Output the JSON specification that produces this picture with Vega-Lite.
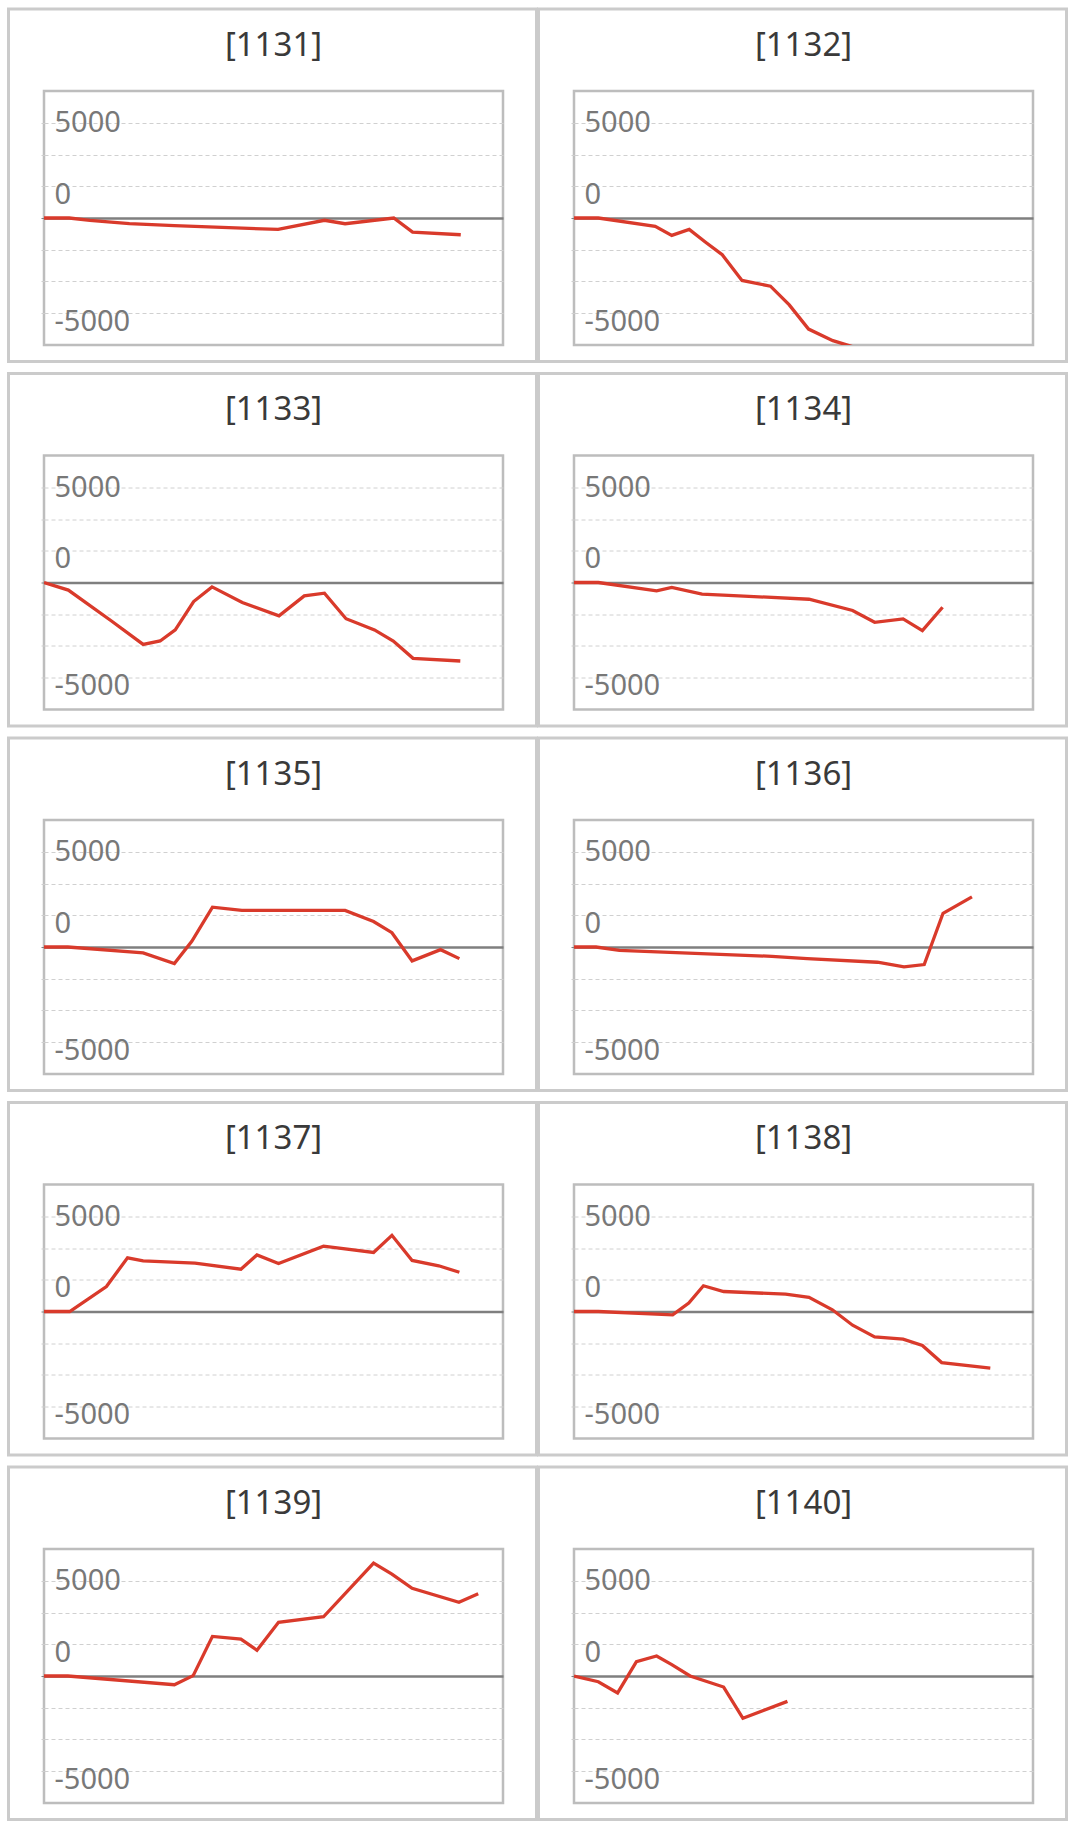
{
  "$schema": "https://vega.github.io/schema/vega-lite/v6.json",
  "padding": {"left": 5, "top": 6, "right": 0, "bottom": 0},
  "background": "white",
  "bounds": "flush",
  "columns": 2,
  "spacing": {"row": 110.5, "column": 71},
  "datasets": {
    "games": [
      {"id": "1131", "g": 0, "v": 0}, {"id": "1131", "g": 5.5, "v": 0}, {"id": "1131", "g": 10, "v": -120}, {"id": "1131", "g": 18.6, "v": -300},
      {"id": "1131", "g": 28.4, "v": -400}, {"id": "1131", "g": 51, "v": -600}, {"id": "1131", "g": 61.1, "v": -120}, {"id": "1131", "g": 65.6, "v": -300},
      {"id": "1131", "g": 76.2, "v": 0}, {"id": "1131", "g": 80.3, "v": -740}, {"id": "1131", "g": 90.8, "v": -880},
      {"id": "1132", "g": 0, "v": 0}, {"id": "1132", "g": 5.3, "v": 0}, {"id": "1132", "g": 17.7, "v": -440}, {"id": "1132", "g": 21.3, "v": -910},
      {"id": "1132", "g": 25.1, "v": -600}, {"id": "1132", "g": 28.6, "v": -1260}, {"id": "1132", "g": 32.3, "v": -1930}, {"id": "1132", "g": 36.6, "v": -3280},
      {"id": "1132", "g": 42.8, "v": -3580}, {"id": "1132", "g": 46.9, "v": -4560}, {"id": "1132", "g": 51.1, "v": -5830}, {"id": "1132", "g": 56.4, "v": -6440},
      {"id": "1132", "g": 62, "v": -6850},
      {"id": "1133", "g": 0, "v": 0}, {"id": "1133", "g": 5.3, "v": -400}, {"id": "1133", "g": 14.7, "v": -2020}, {"id": "1133", "g": 21.6, "v": -3250},
      {"id": "1133", "g": 25.3, "v": -3070}, {"id": "1133", "g": 28.6, "v": -2490}, {"id": "1133", "g": 32.6, "v": -1000}, {"id": "1133", "g": 36.6, "v": -230},
      {"id": "1133", "g": 43.2, "v": -1050}, {"id": "1133", "g": 51.2, "v": -1750}, {"id": "1133", "g": 56.7, "v": -700}, {"id": "1133", "g": 61.1, "v": -560},
      {"id": "1133", "g": 65.8, "v": -1900}, {"id": "1133", "g": 72, "v": -2490}, {"id": "1133", "g": 76.1, "v": -3070}, {"id": "1133", "g": 80.4, "v": -3980},
      {"id": "1133", "g": 90.7, "v": -4120},
      {"id": "1134", "g": 0, "v": 0}, {"id": "1134", "g": 5.3, "v": 0}, {"id": "1134", "g": 18, "v": -440}, {"id": "1134", "g": 21.3, "v": -260},
      {"id": "1134", "g": 27.9, "v": -610}, {"id": "1134", "g": 35.9, "v": -700}, {"id": "1134", "g": 51.2, "v": -880}, {"id": "1134", "g": 60.7, "v": -1470},
      {"id": "1134", "g": 65.5, "v": -2090}, {"id": "1134", "g": 71.7, "v": -1910}, {"id": "1134", "g": 75.9, "v": -2530}, {"id": "1134", "g": 80.3, "v": -1300},
      {"id": "1135", "g": 0, "v": 0}, {"id": "1135", "g": 5.2, "v": 0}, {"id": "1135", "g": 21.6, "v": -310}, {"id": "1135", "g": 28.4, "v": -870},
      {"id": "1135", "g": 32.2, "v": 300}, {"id": "1135", "g": 36.7, "v": 2090}, {"id": "1135", "g": 43.1, "v": 1920}, {"id": "1135", "g": 65.6, "v": 1920},
      {"id": "1135", "g": 71.8, "v": 1340}, {"id": "1135", "g": 75.8, "v": 750}, {"id": "1135", "g": 80.2, "v": -730}, {"id": "1135", "g": 86.4, "v": -140},
      {"id": "1135", "g": 90.5, "v": -610},
      {"id": "1136", "g": 0, "v": 0}, {"id": "1136", "g": 4.8, "v": 0}, {"id": "1136", "g": 9.9, "v": -180}, {"id": "1136", "g": 43.1, "v": -490},
      {"id": "1136", "g": 50.8, "v": -610}, {"id": "1136", "g": 66.1, "v": -800}, {"id": "1136", "g": 71.9, "v": -1040}, {"id": "1136", "g": 76.3, "v": -920},
      {"id": "1136", "g": 80.4, "v": 1770}, {"id": "1136", "g": 86.7, "v": 2630},
      {"id": "1137", "g": 0, "v": 0}, {"id": "1137", "g": 5.6, "v": 0}, {"id": "1137", "g": 13.6, "v": 1310}, {"id": "1137", "g": 18.2, "v": 2820},
      {"id": "1137", "g": 21.6, "v": 2660}, {"id": "1137", "g": 32.9, "v": 2540}, {"id": "1137", "g": 42.9, "v": 2220}, {"id": "1137", "g": 46.4, "v": 2970},
      {"id": "1137", "g": 51.1, "v": 2520}, {"id": "1137", "g": 60.9, "v": 3430}, {"id": "1137", "g": 71.8, "v": 3100}, {"id": "1137", "g": 75.8, "v": 4000},
      {"id": "1137", "g": 80.2, "v": 2680}, {"id": "1137", "g": 86, "v": 2400}, {"id": "1137", "g": 90.5, "v": 2060},
      {"id": "1138", "g": 0, "v": 0}, {"id": "1138", "g": 5.3, "v": 0}, {"id": "1138", "g": 21.5, "v": -180}, {"id": "1138", "g": 25, "v": 440},
      {"id": "1138", "g": 28.2, "v": 1350}, {"id": "1138", "g": 32.6, "v": 1050}, {"id": "1138", "g": 46.1, "v": 910}, {"id": "1138", "g": 51.2, "v": 740},
      {"id": "1138", "g": 56.3, "v": 90}, {"id": "1138", "g": 60.7, "v": -720}, {"id": "1138", "g": 65.5, "v": -1330}, {"id": "1138", "g": 71.7, "v": -1450},
      {"id": "1138", "g": 75.9, "v": -1780}, {"id": "1138", "g": 80.1, "v": -2680}, {"id": "1138", "g": 90.7, "v": -2970},
      {"id": "1139", "g": 0, "v": 0}, {"id": "1139", "g": 5.2, "v": 0}, {"id": "1139", "g": 28.4, "v": -460}, {"id": "1139", "g": 32.5, "v": 20},
      {"id": "1139", "g": 36.7, "v": 2080}, {"id": "1139", "g": 42.9, "v": 1940}, {"id": "1139", "g": 46.4, "v": 1350}, {"id": "1139", "g": 51.1, "v": 2820},
      {"id": "1139", "g": 60.9, "v": 3110}, {"id": "1139", "g": 71.8, "v": 5930}, {"id": "1139", "g": 75.8, "v": 5350}, {"id": "1139", "g": 80.2, "v": 4600},
      {"id": "1139", "g": 90.4, "v": 3870}, {"id": "1139", "g": 94.6, "v": 4320},
      {"id": "1140", "g": 0, "v": 0}, {"id": "1140", "g": 5.3, "v": -300}, {"id": "1140", "g": 9.5, "v": -890}, {"id": "1140", "g": 13.6, "v": 750},
      {"id": "1140", "g": 18, "v": 1050}, {"id": "1140", "g": 21.3, "v": 600}, {"id": "1140", "g": 25.3, "v": 0}, {"id": "1140", "g": 32.6, "v": -580},
      {"id": "1140", "g": 36.8, "v": -2220}, {"id": "1140", "g": 46.5, "v": -1330}
    ]
  },
  "concat": [
    {"title": "[1131]", "width": 459, "height": 254, "layer": [
      {"data": {"values": [{}]}, "mark": {"type": "rect", "fill": "transparent", "stroke": "#cbcbcb", "strokeWidth": 3, "clip": false},
       "encoding": {"x": {"datum": -7.734, "scale": {"domain": [0, 100], "nice": false}, "axis": null}, "x2": {"datum": 107.3},
                    "y": {"datum": 10971, "scale": {"domain": [-6666.6667, 6666.6667], "nice": false}}, "y2": {"datum": -7533}}},
      {"data": {"name": "games"}, "transform": [{"filter": "datum.id == '1131'"}],
       "mark": {"type": "line", "color": "#d93a2b", "strokeWidth": 3.3, "clip": true},
       "encoding": {"x": {"field": "g", "type": "quantitative", "scale": {"domain": [0, 100], "nice": false}, "axis": null},
                    "y": {"field": "v", "type": "quantitative", "scale": {"domain": [-6666.6667, 6666.6667], "nice": false},
                          "axis": {"values": [-5000, -3333.3333, -1666.6667, 0, 1666.6667, 3333.3333, 5000], "title": null, "domain": false, "tickSize": 3,
                                   "tickColor": {"condition": {"test": "datum.value == 0", "value": "#7f7f7f"}, "value": "#cfcfcf"},
                                   "gridColor": {"condition": {"test": "datum.value == 0", "value": "#7f7f7f"}, "value": "#d0d0d0"},
                                   "gridDash": {"condition": {"test": "datum.value == 0", "value": []}, "value": [4, 3]},
                                   "gridWidth": {"condition": {"test": "datum.value == 0", "value": 2.5}, "value": 1},
                                   "labelOffset": {"condition": {"test": "datum.value == 5000", "value": 0}, "value": 8},
                                   "labelExpr": "datum.value == 5000 ? '5000' : datum.value == -5000 ? '-5000' : datum.value == 1666.6667 ? '0' : ''"}}}}
    ]},
    {"title": "[1132]", "width": 459, "height": 254, "layer": [
      {"data": {"values": [{}]}, "mark": {"type": "rect", "fill": "transparent", "stroke": "#cbcbcb", "strokeWidth": 3, "clip": false},
       "encoding": {"x": {"datum": -7.734, "scale": {"domain": [0, 100], "nice": false}, "axis": null}, "x2": {"datum": 107.3},
                    "y": {"datum": 10971, "scale": {"domain": [-6666.6667, 6666.6667], "nice": false}}, "y2": {"datum": -7533}}},
      {"data": {"name": "games"}, "transform": [{"filter": "datum.id == '1132'"}],
       "mark": {"type": "line", "color": "#d93a2b", "strokeWidth": 3.3, "clip": true},
       "encoding": {"x": {"field": "g", "type": "quantitative", "scale": {"domain": [0, 100], "nice": false}, "axis": null},
                    "y": {"field": "v", "type": "quantitative", "scale": {"domain": [-6666.6667, 6666.6667], "nice": false},
                          "axis": {"values": [-5000, -3333.3333, -1666.6667, 0, 1666.6667, 3333.3333, 5000], "title": null, "domain": false, "tickSize": 3,
                                   "tickColor": {"condition": {"test": "datum.value == 0", "value": "#7f7f7f"}, "value": "#cfcfcf"},
                                   "gridColor": {"condition": {"test": "datum.value == 0", "value": "#7f7f7f"}, "value": "#d0d0d0"},
                                   "gridDash": {"condition": {"test": "datum.value == 0", "value": []}, "value": [4, 3]},
                                   "gridWidth": {"condition": {"test": "datum.value == 0", "value": 2.5}, "value": 1},
                                   "labelOffset": {"condition": {"test": "datum.value == 5000", "value": 0}, "value": 8},
                                   "labelExpr": "datum.value == 5000 ? '5000' : datum.value == -5000 ? '-5000' : datum.value == 1666.6667 ? '0' : ''"}}}}
    ]},
    {"title": "[1133]", "width": 459, "height": 254, "layer": [
      {"data": {"values": [{}]}, "mark": {"type": "rect", "fill": "transparent", "stroke": "#cbcbcb", "strokeWidth": 3, "clip": false},
       "encoding": {"x": {"datum": -7.734, "scale": {"domain": [0, 100], "nice": false}, "axis": null}, "x2": {"datum": 107.3},
                    "y": {"datum": 10971, "scale": {"domain": [-6666.6667, 6666.6667], "nice": false}}, "y2": {"datum": -7533}}},
      {"data": {"name": "games"}, "transform": [{"filter": "datum.id == '1133'"}],
       "mark": {"type": "line", "color": "#d93a2b", "strokeWidth": 3.3, "clip": true},
       "encoding": {"x": {"field": "g", "type": "quantitative", "scale": {"domain": [0, 100], "nice": false}, "axis": null},
                    "y": {"field": "v", "type": "quantitative", "scale": {"domain": [-6666.6667, 6666.6667], "nice": false},
                          "axis": {"values": [-5000, -3333.3333, -1666.6667, 0, 1666.6667, 3333.3333, 5000], "title": null, "domain": false, "tickSize": 3,
                                   "tickColor": {"condition": {"test": "datum.value == 0", "value": "#7f7f7f"}, "value": "#cfcfcf"},
                                   "gridColor": {"condition": {"test": "datum.value == 0", "value": "#7f7f7f"}, "value": "#d0d0d0"},
                                   "gridDash": {"condition": {"test": "datum.value == 0", "value": []}, "value": [4, 3]},
                                   "gridWidth": {"condition": {"test": "datum.value == 0", "value": 2.5}, "value": 1},
                                   "labelOffset": {"condition": {"test": "datum.value == 5000", "value": 0}, "value": 8},
                                   "labelExpr": "datum.value == 5000 ? '5000' : datum.value == -5000 ? '-5000' : datum.value == 1666.6667 ? '0' : ''"}}}}
    ]},
    {"title": "[1134]", "width": 459, "height": 254, "layer": [
      {"data": {"values": [{}]}, "mark": {"type": "rect", "fill": "transparent", "stroke": "#cbcbcb", "strokeWidth": 3, "clip": false},
       "encoding": {"x": {"datum": -7.734, "scale": {"domain": [0, 100], "nice": false}, "axis": null}, "x2": {"datum": 107.3},
                    "y": {"datum": 10971, "scale": {"domain": [-6666.6667, 6666.6667], "nice": false}}, "y2": {"datum": -7533}}},
      {"data": {"name": "games"}, "transform": [{"filter": "datum.id == '1134'"}],
       "mark": {"type": "line", "color": "#d93a2b", "strokeWidth": 3.3, "clip": true},
       "encoding": {"x": {"field": "g", "type": "quantitative", "scale": {"domain": [0, 100], "nice": false}, "axis": null},
                    "y": {"field": "v", "type": "quantitative", "scale": {"domain": [-6666.6667, 6666.6667], "nice": false},
                          "axis": {"values": [-5000, -3333.3333, -1666.6667, 0, 1666.6667, 3333.3333, 5000], "title": null, "domain": false, "tickSize": 3,
                                   "tickColor": {"condition": {"test": "datum.value == 0", "value": "#7f7f7f"}, "value": "#cfcfcf"},
                                   "gridColor": {"condition": {"test": "datum.value == 0", "value": "#7f7f7f"}, "value": "#d0d0d0"},
                                   "gridDash": {"condition": {"test": "datum.value == 0", "value": []}, "value": [4, 3]},
                                   "gridWidth": {"condition": {"test": "datum.value == 0", "value": 2.5}, "value": 1},
                                   "labelOffset": {"condition": {"test": "datum.value == 5000", "value": 0}, "value": 8},
                                   "labelExpr": "datum.value == 5000 ? '5000' : datum.value == -5000 ? '-5000' : datum.value == 1666.6667 ? '0' : ''"}}}}
    ]},
    {"title": "[1135]", "width": 459, "height": 254, "layer": [
      {"data": {"values": [{}]}, "mark": {"type": "rect", "fill": "transparent", "stroke": "#cbcbcb", "strokeWidth": 3, "clip": false},
       "encoding": {"x": {"datum": -7.734, "scale": {"domain": [0, 100], "nice": false}, "axis": null}, "x2": {"datum": 107.3},
                    "y": {"datum": 10971, "scale": {"domain": [-6666.6667, 6666.6667], "nice": false}}, "y2": {"datum": -7533}}},
      {"data": {"name": "games"}, "transform": [{"filter": "datum.id == '1135'"}],
       "mark": {"type": "line", "color": "#d93a2b", "strokeWidth": 3.3, "clip": true},
       "encoding": {"x": {"field": "g", "type": "quantitative", "scale": {"domain": [0, 100], "nice": false}, "axis": null},
                    "y": {"field": "v", "type": "quantitative", "scale": {"domain": [-6666.6667, 6666.6667], "nice": false},
                          "axis": {"values": [-5000, -3333.3333, -1666.6667, 0, 1666.6667, 3333.3333, 5000], "title": null, "domain": false, "tickSize": 3,
                                   "tickColor": {"condition": {"test": "datum.value == 0", "value": "#7f7f7f"}, "value": "#cfcfcf"},
                                   "gridColor": {"condition": {"test": "datum.value == 0", "value": "#7f7f7f"}, "value": "#d0d0d0"},
                                   "gridDash": {"condition": {"test": "datum.value == 0", "value": []}, "value": [4, 3]},
                                   "gridWidth": {"condition": {"test": "datum.value == 0", "value": 2.5}, "value": 1},
                                   "labelOffset": {"condition": {"test": "datum.value == 5000", "value": 0}, "value": 8},
                                   "labelExpr": "datum.value == 5000 ? '5000' : datum.value == -5000 ? '-5000' : datum.value == 1666.6667 ? '0' : ''"}}}}
    ]},
    {"title": "[1136]", "width": 459, "height": 254, "layer": [
      {"data": {"values": [{}]}, "mark": {"type": "rect", "fill": "transparent", "stroke": "#cbcbcb", "strokeWidth": 3, "clip": false},
       "encoding": {"x": {"datum": -7.734, "scale": {"domain": [0, 100], "nice": false}, "axis": null}, "x2": {"datum": 107.3},
                    "y": {"datum": 10971, "scale": {"domain": [-6666.6667, 6666.6667], "nice": false}}, "y2": {"datum": -7533}}},
      {"data": {"name": "games"}, "transform": [{"filter": "datum.id == '1136'"}],
       "mark": {"type": "line", "color": "#d93a2b", "strokeWidth": 3.3, "clip": true},
       "encoding": {"x": {"field": "g", "type": "quantitative", "scale": {"domain": [0, 100], "nice": false}, "axis": null},
                    "y": {"field": "v", "type": "quantitative", "scale": {"domain": [-6666.6667, 6666.6667], "nice": false},
                          "axis": {"values": [-5000, -3333.3333, -1666.6667, 0, 1666.6667, 3333.3333, 5000], "title": null, "domain": false, "tickSize": 3,
                                   "tickColor": {"condition": {"test": "datum.value == 0", "value": "#7f7f7f"}, "value": "#cfcfcf"},
                                   "gridColor": {"condition": {"test": "datum.value == 0", "value": "#7f7f7f"}, "value": "#d0d0d0"},
                                   "gridDash": {"condition": {"test": "datum.value == 0", "value": []}, "value": [4, 3]},
                                   "gridWidth": {"condition": {"test": "datum.value == 0", "value": 2.5}, "value": 1},
                                   "labelOffset": {"condition": {"test": "datum.value == 5000", "value": 0}, "value": 8},
                                   "labelExpr": "datum.value == 5000 ? '5000' : datum.value == -5000 ? '-5000' : datum.value == 1666.6667 ? '0' : ''"}}}}
    ]},
    {"title": "[1137]", "width": 459, "height": 254, "layer": [
      {"data": {"values": [{}]}, "mark": {"type": "rect", "fill": "transparent", "stroke": "#cbcbcb", "strokeWidth": 3, "clip": false},
       "encoding": {"x": {"datum": -7.734, "scale": {"domain": [0, 100], "nice": false}, "axis": null}, "x2": {"datum": 107.3},
                    "y": {"datum": 10971, "scale": {"domain": [-6666.6667, 6666.6667], "nice": false}}, "y2": {"datum": -7533}}},
      {"data": {"name": "games"}, "transform": [{"filter": "datum.id == '1137'"}],
       "mark": {"type": "line", "color": "#d93a2b", "strokeWidth": 3.3, "clip": true},
       "encoding": {"x": {"field": "g", "type": "quantitative", "scale": {"domain": [0, 100], "nice": false}, "axis": null},
                    "y": {"field": "v", "type": "quantitative", "scale": {"domain": [-6666.6667, 6666.6667], "nice": false},
                          "axis": {"values": [-5000, -3333.3333, -1666.6667, 0, 1666.6667, 3333.3333, 5000], "title": null, "domain": false, "tickSize": 3,
                                   "tickColor": {"condition": {"test": "datum.value == 0", "value": "#7f7f7f"}, "value": "#cfcfcf"},
                                   "gridColor": {"condition": {"test": "datum.value == 0", "value": "#7f7f7f"}, "value": "#d0d0d0"},
                                   "gridDash": {"condition": {"test": "datum.value == 0", "value": []}, "value": [4, 3]},
                                   "gridWidth": {"condition": {"test": "datum.value == 0", "value": 2.5}, "value": 1},
                                   "labelOffset": {"condition": {"test": "datum.value == 5000", "value": 0}, "value": 8},
                                   "labelExpr": "datum.value == 5000 ? '5000' : datum.value == -5000 ? '-5000' : datum.value == 1666.6667 ? '0' : ''"}}}}
    ]},
    {"title": "[1138]", "width": 459, "height": 254, "layer": [
      {"data": {"values": [{}]}, "mark": {"type": "rect", "fill": "transparent", "stroke": "#cbcbcb", "strokeWidth": 3, "clip": false},
       "encoding": {"x": {"datum": -7.734, "scale": {"domain": [0, 100], "nice": false}, "axis": null}, "x2": {"datum": 107.3},
                    "y": {"datum": 10971, "scale": {"domain": [-6666.6667, 6666.6667], "nice": false}}, "y2": {"datum": -7533}}},
      {"data": {"name": "games"}, "transform": [{"filter": "datum.id == '1138'"}],
       "mark": {"type": "line", "color": "#d93a2b", "strokeWidth": 3.3, "clip": true},
       "encoding": {"x": {"field": "g", "type": "quantitative", "scale": {"domain": [0, 100], "nice": false}, "axis": null},
                    "y": {"field": "v", "type": "quantitative", "scale": {"domain": [-6666.6667, 6666.6667], "nice": false},
                          "axis": {"values": [-5000, -3333.3333, -1666.6667, 0, 1666.6667, 3333.3333, 5000], "title": null, "domain": false, "tickSize": 3,
                                   "tickColor": {"condition": {"test": "datum.value == 0", "value": "#7f7f7f"}, "value": "#cfcfcf"},
                                   "gridColor": {"condition": {"test": "datum.value == 0", "value": "#7f7f7f"}, "value": "#d0d0d0"},
                                   "gridDash": {"condition": {"test": "datum.value == 0", "value": []}, "value": [4, 3]},
                                   "gridWidth": {"condition": {"test": "datum.value == 0", "value": 2.5}, "value": 1},
                                   "labelOffset": {"condition": {"test": "datum.value == 5000", "value": 0}, "value": 8},
                                   "labelExpr": "datum.value == 5000 ? '5000' : datum.value == -5000 ? '-5000' : datum.value == 1666.6667 ? '0' : ''"}}}}
    ]},
    {"title": "[1139]", "width": 459, "height": 254, "layer": [
      {"data": {"values": [{}]}, "mark": {"type": "rect", "fill": "transparent", "stroke": "#cbcbcb", "strokeWidth": 3, "clip": false},
       "encoding": {"x": {"datum": -7.734, "scale": {"domain": [0, 100], "nice": false}, "axis": null}, "x2": {"datum": 107.3},
                    "y": {"datum": 10971, "scale": {"domain": [-6666.6667, 6666.6667], "nice": false}}, "y2": {"datum": -7533}}},
      {"data": {"name": "games"}, "transform": [{"filter": "datum.id == '1139'"}],
       "mark": {"type": "line", "color": "#d93a2b", "strokeWidth": 3.3, "clip": true},
       "encoding": {"x": {"field": "g", "type": "quantitative", "scale": {"domain": [0, 100], "nice": false}, "axis": null},
                    "y": {"field": "v", "type": "quantitative", "scale": {"domain": [-6666.6667, 6666.6667], "nice": false},
                          "axis": {"values": [-5000, -3333.3333, -1666.6667, 0, 1666.6667, 3333.3333, 5000], "title": null, "domain": false, "tickSize": 3,
                                   "tickColor": {"condition": {"test": "datum.value == 0", "value": "#7f7f7f"}, "value": "#cfcfcf"},
                                   "gridColor": {"condition": {"test": "datum.value == 0", "value": "#7f7f7f"}, "value": "#d0d0d0"},
                                   "gridDash": {"condition": {"test": "datum.value == 0", "value": []}, "value": [4, 3]},
                                   "gridWidth": {"condition": {"test": "datum.value == 0", "value": 2.5}, "value": 1},
                                   "labelOffset": {"condition": {"test": "datum.value == 5000", "value": 0}, "value": 8},
                                   "labelExpr": "datum.value == 5000 ? '5000' : datum.value == -5000 ? '-5000' : datum.value == 1666.6667 ? '0' : ''"}}}}
    ]},
    {"title": "[1140]", "width": 459, "height": 254, "layer": [
      {"data": {"values": [{}]}, "mark": {"type": "rect", "fill": "transparent", "stroke": "#cbcbcb", "strokeWidth": 3, "clip": false},
       "encoding": {"x": {"datum": -7.734, "scale": {"domain": [0, 100], "nice": false}, "axis": null}, "x2": {"datum": 107.3},
                    "y": {"datum": 10971, "scale": {"domain": [-6666.6667, 6666.6667], "nice": false}}, "y2": {"datum": -7533}}},
      {"data": {"name": "games"}, "transform": [{"filter": "datum.id == '1140'"}],
       "mark": {"type": "line", "color": "#d93a2b", "strokeWidth": 3.3, "clip": true},
       "encoding": {"x": {"field": "g", "type": "quantitative", "scale": {"domain": [0, 100], "nice": false}, "axis": null},
                    "y": {"field": "v", "type": "quantitative", "scale": {"domain": [-6666.6667, 6666.6667], "nice": false},
                          "axis": {"values": [-5000, -3333.3333, -1666.6667, 0, 1666.6667, 3333.3333, 5000], "title": null, "domain": false, "tickSize": 3,
                                   "tickColor": {"condition": {"test": "datum.value == 0", "value": "#7f7f7f"}, "value": "#cfcfcf"},
                                   "gridColor": {"condition": {"test": "datum.value == 0", "value": "#7f7f7f"}, "value": "#d0d0d0"},
                                   "gridDash": {"condition": {"test": "datum.value == 0", "value": []}, "value": [4, 3]},
                                   "gridWidth": {"condition": {"test": "datum.value == 0", "value": 2.5}, "value": 1},
                                   "labelOffset": {"condition": {"test": "datum.value == 5000", "value": 0}, "value": 8},
                                   "labelExpr": "datum.value == 5000 ? '5000' : datum.value == -5000 ? '-5000' : datum.value == 1666.6667 ? '0' : ''"}}}}
    ]}
  ],
  "config": {
    "font": "Noto Sans",
    "view": {"stroke": "#bdbdbd", "strokeWidth": 2.5},
    "title": {"fontSize": 33, "fontWeight": "normal", "color": "#3a3a3a", "anchor": "middle", "frame": "group", "offset": -55, "baseline": "middle"},
    "axisY": {"grid": true, "ticks": true, "labelAlign": "left", "labelBaseline": "middle", "labelPadding": -13, "labelFontSize": 29,
              "labelColor": "#787878", "labelOverlap": false, "labelBound": false, "labelFlush": false}
  }
}
